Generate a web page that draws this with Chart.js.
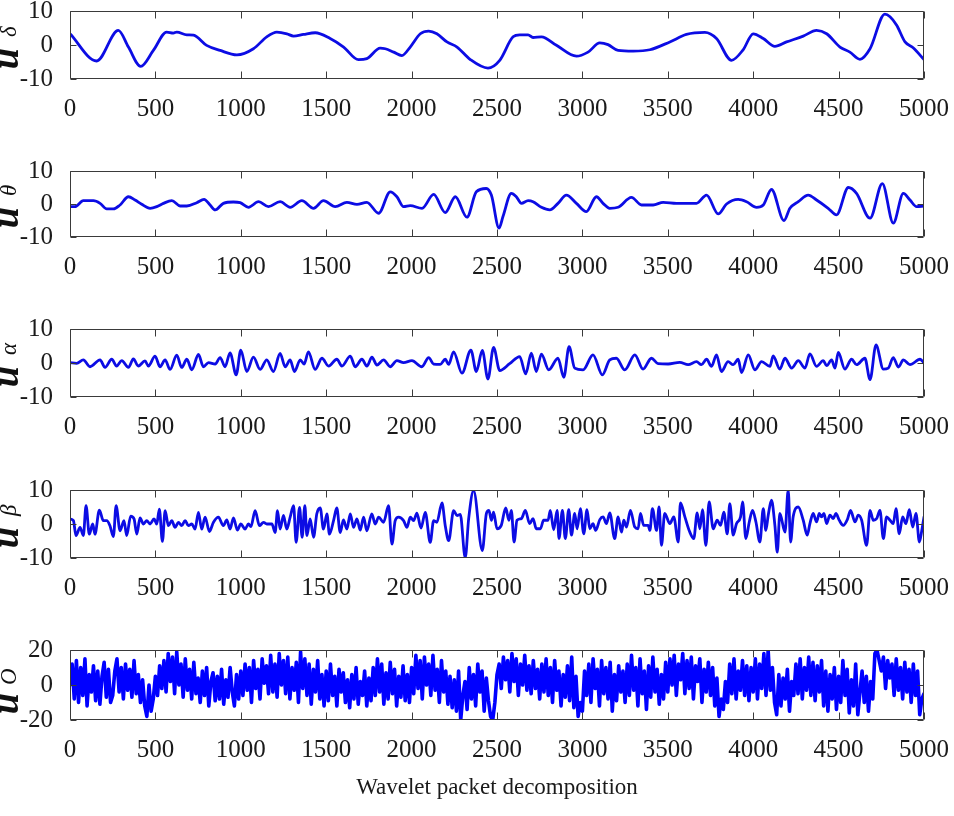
<!DOCTYPE html>
<html>
<head>
<meta charset="utf-8">
<script src="https://cdn.jsdelivr.net/npm/chart.js@4.4.1/dist/chart.umd.min.js"></script>
<style>
  html, body { margin: 0; padding: 0; background: #ffffff; }
  body { width: 954px; height: 816px; position: relative; overflow: hidden; }
  canvas { position: absolute; left: 0; }
</style>
</head>
<body>
<canvas id="c0"></canvas>
<canvas id="c1"></canvas>
<canvas id="c2"></canvas>
<canvas id="c3"></canvas>
<canvas id="c4"></canvas>
<script>
// ---------------- tick labels ----------------
const X_TICKS = [0, 500, 1000, 1500, 2000, 2500, 3000, 3500, 4000, 4500, 5000];
const Y_TICKS_10 = [-10, 0, 10];
const Y_TICKS_20 = [-20, 0, 20];
const X_TITLE = 'Wavelet packet decomposition';
const SUB_LABELS = ['δ', 'θ', 'α', 'β', 'O'];

// ---------------- series: u_delta ----------------
const delta_x = [0,156,283,342,414,488,566,605,625,684,723,800,879,977,1074,1152,1211,1270,1309,1367,1436,1523,1602,1689,1738,1816,1846,1895,1943,1992,2051,2100,2148,2207,2266,2344,2447,2516,2594,2633,2682,2711,2760,2848,2965,3033,3102,3150,3209,3297,3395,3512,3609,3717,3785,3873,3941,4000,4059,4127,4195,4293,4371,4430,4508,4566,4625,4684,4771,4801,4840,4889,4938,5000];
const delta_y = [3.3,-4.7,4.3,-0.6,-6.3,-1.6,3.8,3.5,3.8,3.0,2.9,-0.1,-1.6,-2.9,-1.1,2.4,3.8,3.3,2.6,3.1,3.6,1.9,-0.6,-4.3,-4.0,-0.9,-1.1,-2.1,-3.1,-0.6,3.3,4.1,3.3,0.9,-0.6,-4.3,-6.8,-4.5,2.4,3.0,3.0,2.2,2.4,-0.1,-3.3,-2.1,0.6,0.1,-1.6,-1.8,-1.4,0.9,3.1,3.7,1.9,-4.5,-1.4,3.3,1.9,-0.4,0.9,2.6,4.3,3.3,-0.6,-2.1,-4.2,-1.1,9.1,8.3,5.8,0.9,-0.9,-4.3];

// ---------------- series: u_theta ----------------
const theta_x = [0,29,78,137,176,215,254,293,342,381,420,469,508,547,596,645,684,742,785,820,850,898,957,996,1045,1104,1162,1230,1289,1357,1426,1484,1553,1621,1680,1738,1807,1875,1914,1953,1992,2061,2129,2197,2256,2324,2379,2437,2467,2512,2535,2584,2613,2643,2682,2711,2760,2809,2857,2906,2965,3023,3082,3121,3160,3209,3287,3346,3414,3473,3551,3668,3727,3795,3844,3912,3961,4020,4059,4107,4180,4215,4264,4322,4371,4439,4488,4557,4605,4684,4756,4820,4879,4918,4957,5000];
const theta_y = [-0.8,-0.8,1.0,1.0,0.2,-1.5,-1.5,-0.3,2.2,1.2,-0.1,-1.3,-0.8,0.2,1.0,-0.6,-0.6,0.4,1.4,-0.3,-1.8,0.2,0.6,0.4,-1.0,0.7,-0.8,0.7,-1.0,1.0,-1.3,1.0,-0.8,0.5,-0.1,0.5,-2.8,3.7,2.2,-0.8,-0.5,-1.3,2.9,-2.6,2.2,-4.0,3.7,4.7,2.7,-7.3,-3.8,3.2,2.2,0.2,1.0,0.7,-1.0,-1.8,0.2,2.7,0.2,-2.3,2.2,0.2,-1.3,-1.0,2.0,-0.3,-0.3,0.5,0.2,0.2,2.7,-3.0,0.0,1.4,0.7,-1.0,-0.3,4.4,-5.0,-1.3,0.7,2.7,1.2,-1.3,-3.3,5.0,3.2,-4.3,6.2,-5.8,3.2,1.2,-0.8,-0.6];

// ---------------- series: u_alpha ----------------
const alpha_x = [0,39,78,117,176,205,244,273,303,342,371,400,439,459,498,527,557,586,625,654,684,713,752,781,811,850,879,908,937,973,1000,1035,1074,1113,1152,1191,1230,1260,1289,1314,1348,1371,1396,1435,1475,1514,1562,1592,1641,1670,1709,1738,1768,1797,1836,1875,1914,1953,2002,2060,2100,2129,2168,2197,2217,2246,2295,2347,2379,2414,2447,2480,2516,2574,2633,2668,2701,2730,2760,2803,2857,2891,2922,2955,3004,3062,3117,3160,3199,3248,3307,3355,3404,3443,3502,3570,3619,3668,3697,3727,3756,3785,3814,3853,3883,3912,3932,3971,4010,4049,4098,4117,4156,4186,4225,4264,4303,4332,4371,4410,4430,4459,4479,4498,4537,4576,4605,4654,4684,4719,4762,4791,4820,4850,4879,4918,4977,5000];
const alpha_y = [0.1,-0.1,0.9,-1.1,0.9,-1.3,1.1,-0.9,0.7,-1.3,1.2,-0.9,0.6,-0.9,2.0,-1.1,0.9,-1.9,2.3,-1.3,1.1,-2.0,2.5,-1.1,0.1,-0.3,1.6,-1.1,3.0,-3.5,3.8,-2.5,1.7,-1.9,0.9,-2.5,2.8,-1.1,0.9,-2.5,0.9,-0.3,3.3,-1.9,1.4,-0.9,1.1,-0.9,2.0,-1.1,1.1,-0.9,1.7,-0.6,0.9,-1.1,0.7,0.1,0.7,-1.1,1.6,-0.3,-0.4,1.1,-0.4,3.3,-3.0,3.8,-2.5,3.7,-4.7,4.6,-2.2,-0.2,1.9,-3.2,2.9,-2.5,2.6,-2.0,1.4,-4.2,4.8,-1.5,-2.0,2.4,-3.5,0.9,1.4,-2.0,2.4,-1.8,1.4,-0.2,-0.3,0.2,-0.5,0.4,-0.5,1.1,-1.0,2.4,-2.5,0.4,-0.5,1.1,-2.8,2.4,-2.0,0.4,-1.0,2.1,-1.8,1.4,-1.5,0.7,-1.5,2.7,-1.0,0.7,-0.8,0.9,-1.5,3.1,-1.8,1.1,-0.5,1.4,-4.9,5.3,-1.8,-1.5,1.6,-1.2,0.9,-0.5,1.1,0.0];

// ---------------- series: u_beta ----------------
const beta_x = [0,20,35,59,78,94,113,133,146,172,195,215,234,254,270,293,316,332,355,375,391,410,430,449,469,492,508,523,541,557,576,596,615,635,654,674,693,713,732,752,771,791,816,840,869,898,918,937,957,980,1000,1025,1045,1059,1084,1109,1133,1152,1182,1201,1215,1230,1250,1269,1289,1309,1324,1344,1359,1375,1387,1406,1426,1445,1465,1484,1504,1519,1543,1562,1582,1601,1621,1641,1660,1680,1699,1719,1738,1767,1787,1807,1836,1865,1885,1904,1924,1953,1973,1992,2012,2031,2055,2080,2109,2129,2148,2178,2197,2217,2246,2266,2285,2314,2334,2363,2414,2438,2453,2467,2480,2500,2525,2551,2570,2584,2600,2617,2643,2666,2691,2711,2730,2754,2773,2799,2812,2832,2852,2863,2883,2900,2920,2936,2955,2969,2988,3008,3027,3043,3062,3078,3102,3121,3141,3160,3189,3209,3229,3242,3258,3281,3307,3326,3340,3359,3385,3395,3410,3434,3449,3463,3482,3512,3535,3561,3574,3600,3629,3652,3672,3688,3703,3723,3742,3766,3789,3809,3828,3848,3863,3883,3902,3926,3938,3957,3977,3996,4016,4039,4059,4074,4088,4107,4127,4141,4156,4186,4205,4219,4234,4264,4293,4316,4332,4351,4371,4387,4400,4414,4430,4449,4469,4484,4504,4527,4551,4570,4596,4615,4635,4664,4684,4703,4723,4742,4762,4781,4801,4820,4836,4855,4875,4894,4914,4934,4953,4973,4987,5000];
const beta_y = [1.5,1.0,-3.4,-1.0,-3.4,5.4,-3.0,0.0,-3.0,4.1,1.0,1.0,-0.5,-3.7,5.4,-2.0,1.0,-3.4,2.3,1.5,-3.0,1.8,0.0,1.0,0.0,1.5,0.0,4.4,-5.1,3.9,-0.5,1.0,-1.0,0.5,-0.5,1.0,-0.5,0.0,-1.5,3.4,-1.5,2.0,-2.2,0.5,2.0,-0.5,1.2,-1.5,1.8,-1.8,0.0,-1.5,0.0,-0.8,3.9,-0.5,0.5,0.0,0.0,-2.5,3.9,-1.5,2.5,-1.5,2.0,5.4,-5.4,4.9,-3.9,5.4,-3.4,1.5,-3.9,3.0,4.7,-1.5,3.0,-3.0,1.0,4.7,-2.5,1.2,-1.5,3.0,-1.0,1.5,-1.8,2.0,-2.0,3.0,0.0,2.0,0.5,5.4,-5.9,1.0,2.0,1.0,-1.0,2.0,1.0,3.2,-1.2,3.4,-5.4,1.0,0.5,6.2,-0.5,-4.9,3.9,2.5,2.8,-10.0,1.5,9.8,-7.8,3.1,4.0,1.1,3.5,-1.4,-0.4,4.7,1.1,4.0,-5.3,1.1,1.6,4.0,0.1,1.6,-1.4,-1.4,1.1,1.1,4.0,-1.7,4.0,-4.3,4.0,-4.3,4.2,-3.3,3.1,-1.4,4.5,-2.9,4.2,-1.4,0.1,-1.9,1.3,2.1,0.1,3.3,-4.3,2.1,-2.4,1.1,-0.9,4.0,-0.9,-1.4,3.1,-0.4,-0.4,-1.9,4.5,-1.9,5.0,-6.3,3.1,0.1,2.1,-5.3,6.2,2.1,-2.4,-4.3,3.3,-1.4,4.2,-6.3,6.5,-1.4,1.1,-0.4,3.5,-2.9,6.0,-3.3,0.1,2.1,6.5,-4.3,0.6,4.0,0.6,-5.3,4.5,-1.9,2.6,7.0,-0.4,-8.3,3.1,-2.4,10.0,-5.3,2.1,5.0,1.1,-3.3,0.1,3.1,0.6,3.1,2.1,3.1,0.1,2.6,1.6,3.1,1.1,-0.4,1.3,4.0,0.6,2.6,1.1,-6.3,4.0,1.1,1.6,4.0,-4.3,2.1,1.1,0.1,4.5,-2.9,2.1,0.1,4.2,-0.9,3.1,-5.3,-1.9,2.1];

// ---------------- series: u_O (sample spacing 12.5) ----------------
const O_step = 12.5;
const O_y = [
  0,12,-8,14,-10,10,-6,15,-12,6,-4,11,-9,8,-11,5,13,-7,9,-10,
  -6,8,15,-4,10,-8,12,-3,9,-7,14,-5,6,-10,3,-12,-18,0,-15,-8,
  5,-6,11,-2,14,-4,18,2,16,-5,19,0,12,-7,15,-3,9,-8,13,-5,
  4,-10,8,-6,10,-12,2,7,-9,5,-8,9,-11,3,-7,10,-4,-12,6,-8,
  8,-6,12,-3,10,-10,14,-2,9,-8,15,1,11,-5,17,-4,12,-7,18,0,
  14,-5,16,-8,10,-3,13,-10,19,-2,15,-6,12,-11,9,-4,14,-8,6,-12,
  8,-9,12,-6,5,-12,9,-4,7,-10,3,-13,6,-8,10,-11,2,-6,8,-12,
  4,-9,10,-6,15,-4,12,-11,7,-8,13,-5,9,-12,5,-7,11,-9,6,-10,
  10,-5,17,-2,14,-8,16,0,12,-6,17,-3,9,-10,14,-4,8,-11,5,-13,
  3,-15,8,-20,-6,2,-14,10,-8,6,-12,12,-4,8,-15,4,-9,-18,-20,-10,
  6,12,-2,16,3,14,-4,18,2,15,-6,12,0,17,-3,11,-5,14,-2,9,
  -8,12,-4,15,-6,10,-10,14,-3,8,-12,6,-7,11,-9,16,-13,5,-18,-10,
  -15,8,-6,12,-10,15,-2,9,-12,14,-5,10,-8,13,-15,6,-9,11,-4,8,
  -10,12,-6,17,-3,10,-12,15,-5,8,-14,11,-7,16,-4,9,-11,6,-8,13,
  -4,15,0,17,-6,12,3,18,-5,14,-2,16,-8,11,2,15,-10,9,-4,13,
  -6,10,-12,4,-18,-8,-14,2,-10,12,-5,15,-8,8,-3,14,-6,11,-9,10,
  -4,15,-8,12,-2,18,-6,20,-3,10,-10,-17,6,-12,4,-8,9,-15,2,-6,
  12,-5,15,-8,10,-3,16,-6,13,-9,11,-4,14,-12,8,-15,6,-8,10,-14,
  5,-10,14,-6,9,-16,3,-12,12,-17,-4,8,-10,5,-15,2,-8,18,20,14,
  8,16,-2,14,4,12,-6,15,-3,10,-8,13,-4,9,-10,12,-6,8,-17,-8,
  -5
];
const O_x = O_y.map((_, i) => i * O_step);

// ---------------- layout (pixels) ----------------
const LAYOUT = [
  { top: 11,  bottom: 79,  uEnd: 3,  subStart: 8 },
  { top: 171, bottom: 237, uEnd: 3,  subStart: 8 },
  { top: 329, bottom: 397, uEnd: 3,  subStart: 8 },
  { top: 490, bottom: 558, uEnd: 3,  subStart: 8 },
  { top: 650, bottom: 720, uEnd: 8,  subStart: 0 }
];
const PLOT_LEFT = 70, PLOT_RIGHT = 924, PAD_TOP = 20, XAXIS_H = 55, LAST_XAXIS_H = 90;
const SERIF = '"Liberation Serif", "Times New Roman", serif';
const LINE_COLOR = 'rgb(12,12,228)';

const SERIES = [
  { xs: delta_x, ys: delta_y, yt: Y_TICKS_10, smooth: true },
  { xs: theta_x, ys: theta_y, yt: Y_TICKS_10, smooth: true },
  { xs: alpha_x, ys: alpha_y, yt: Y_TICKS_10, smooth: true },
  { xs: beta_x,  ys: beta_y,  yt: Y_TICKS_10, smooth: true },
  { xs: O_x,     ys: O_y,     yt: Y_TICKS_20, smooth: false }
];

// frame + inward tick marks
const framePlugin = {
  id: 'frame',
  afterDatasetsDraw(chart) {
    const { ctx, chartArea: a, scales } = chart;
    ctx.save();
    ctx.strokeStyle = '#3a3a3a';
    ctx.lineWidth = 1;
    ctx.beginPath();
    const L = Math.round(a.left) + 0.5, R = Math.round(a.right) - 0.5;
    const T = Math.round(a.top) + 0.5, B = Math.round(a.bottom) - 0.5;
    ctx.rect(L, T, R - L, B - T);
    scales.x.ticks.forEach(t => {
      const px = Math.round(scales.x.getPixelForValue(t.value)) + 0.5;
      ctx.moveTo(px, B); ctx.lineTo(px, B - 7);
      ctx.moveTo(px, T); ctx.lineTo(px, T + 7);
    });
    scales.y.ticks.forEach(t => {
      const py = Math.round(scales.y.getPixelForValue(t.value)) + 0.5;
      ctx.moveTo(L, py); ctx.lineTo(L + 6, py);
      ctx.moveTo(R, py); ctx.lineTo(R - 6, py);
    });
    ctx.stroke();
    ctx.restore();
  }
};

// y-axis title: bold italic u with a subscript symbol, rotated
const yTitlePlugin = {
  id: 'ytitle',
  afterDraw(chart, args, opts) {
    const { ctx, chartArea: a } = chart;
    const cy = (a.top + a.bottom) / 2;
    ctx.save();
    ctx.translate(0, cy);
    ctx.rotate(-Math.PI / 2);
    ctx.fillStyle = '#111';
    ctx.textBaseline = 'alphabetic';
    ctx.font = 'italic bold 38px ' + SERIF;
    ctx.textAlign = 'right';
    ctx.fillText('u', -opts.uEnd, 18);
    ctx.font = 'italic 23px ' + SERIF;
    ctx.textAlign = 'left';
    ctx.fillText(opts.sub, opts.subStart, 16);
    ctx.restore();
  }
};

SERIES.forEach((s, i) => {
  const lay = LAYOUT[i];
  const last = i === SERIES.length - 1;
  const plotH = lay.bottom - lay.top;
  const xh = last ? LAST_XAXIS_H : XAXIS_H;
  const cv = document.getElementById('c' + i);
  cv.width = 954;
  cv.height = PAD_TOP + plotH + xh;
  cv.style.top = (lay.top - PAD_TOP) + 'px';
  cv.style.width = '954px';
  cv.style.height = cv.height + 'px';
  new Chart(cv.getContext('2d'), {
    type: 'line',
    data: {
      datasets: [{
        data: s.xs.map((x, k) => ({ x: x, y: s.ys[k] })),
        borderColor: last ? 'rgb(0,0,255)' : LINE_COLOR,
        borderWidth: last ? 3.6 : 2.8,
        pointRadius: 0,
        fill: false,
        cubicInterpolationMode: s.smooth ? 'monotone' : 'default',
        tension: 0,
        borderJoinStyle: 'round',
        borderCapStyle: 'round'
      }]
    },
    options: {
      responsive: false,
      animation: false,
      devicePixelRatio: 1,
      layout: { padding: { top: PAD_TOP, left: 0, right: 954 - PLOT_RIGHT, bottom: 0 } },
      plugins: {
        legend: { display: false },
        tooltip: { enabled: false },
        ytitle: { sub: SUB_LABELS[i], uEnd: lay.uEnd, subStart: lay.subStart }
      },
      scales: {
        x: {
          type: 'linear', min: 0, max: 5000,
          afterBuildTicks: sc => { sc.ticks = X_TICKS.map(v => ({ value: v })); },
          afterFit: sc => { sc.height = xh; sc.paddingLeft = 0; sc.paddingRight = 0; },
          grid: { display: false, drawTicks: false },
          border: { display: false },
          ticks: {
            autoSkip: false, maxRotation: 0, padding: 15,
            color: '#1a1a1a', font: { family: SERIF, size: 25 },
            callback: v => String(v)
          },
          title: {
            display: last, text: X_TITLE, color: '#1a1a1a',
            font: { family: SERIF, size: 23 }, padding: { top: 0, bottom: 8 }
          }
        },
        y: {
          type: 'linear', min: s.yt[0], max: s.yt[s.yt.length - 1],
          afterBuildTicks: sc => { sc.ticks = s.yt.map(v => ({ value: v })); },
          afterFit: sc => { sc.width = PLOT_LEFT; sc.paddingTop = 0; sc.paddingBottom = 0; },
          grid: { display: false, drawTicks: false },
          border: { display: false },
          ticks: {
            autoSkip: false, padding: 17, color: '#1a1a1a', font: { family: SERIF, size: 25 },
            callback: v => String(v)
          }
        }
      }
    },
    plugins: [framePlugin, yTitlePlugin]
  });
});
</script>
</body>
</html>
